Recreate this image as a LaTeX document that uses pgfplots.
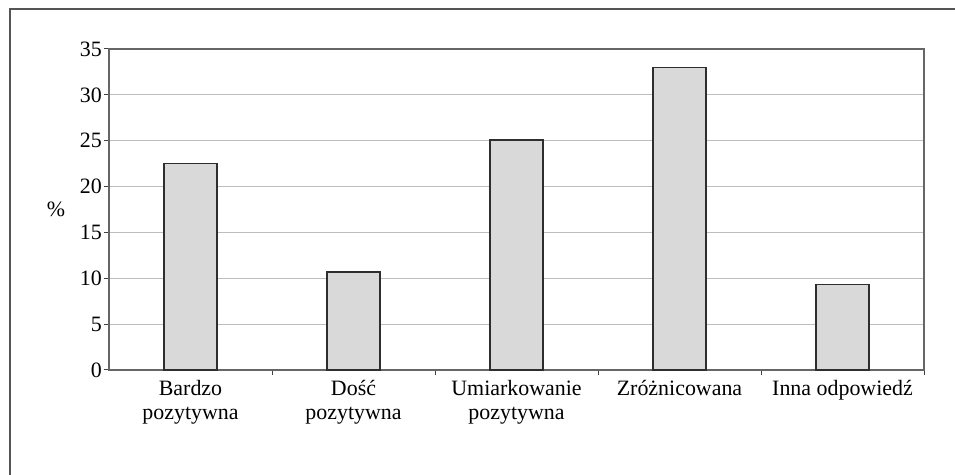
\documentclass[border=0pt]{standalone}
\usepackage{fontspec}
\setmainfont{Liberation Serif}
\usepackage{pgfplots}
\pgfplotsset{compat=1.18}

\definecolor{barfill}{HTML}{D9D9D9}
\definecolor{baredge}{HTML}{2E2E2E}
\definecolor{gridc}{HTML}{BDBDBD}
\definecolor{framec}{HTML}{555555}

\begin{document}
\begin{tikzpicture}[x=1bp,y=1bp]
\useasboundingbox (0,0) rectangle (955,475);
% outer frame (only top and left edges are visible)
\draw[framec, line width=2bp] (10,0) -- (10,466) -- (955,466);
\begin{axis}[
    at={(109bp,105bp)}, anchor=south west,
    scale only axis,
    width=815bp, height=321bp,
    xmin=0.5, xmax=5.5,
    ymin=0, ymax=35,
    ytick={0,5,...,35},
    xtick={1,2,3,4,5},
    xticklabels={{Bardzo\\pozytywna},{Dość\\pozytywna},{Umiarkowanie\\pozytywna},{Zróżnicowana},{Inna odpowiedź}},
    minor xtick={1.5,2.5,3.5,4.5,5.5},
    major x tick style={draw=none},
    minor x tick style={draw=black!75, line width=1bp},
    minor tick length=5bp,
    major tick length=5bp,
    tick align=outside,
    ytick pos=left, xtick pos=bottom,
    ytick style={draw=black!75, line width=1bp},
    ymajorgrids,
    grid style={gridc, line width=1bp},
    axis line style={black!60, line width=1.5bp},
    tick label style={font=\fontsize{22}{24}\selectfont},
    xticklabel style={align=center, inner sep=2bp, yshift=-3bp},
    yticklabel style={inner sep=2bp},
    /pgf/number format/assume math mode=true,
    ylabel={\%},
    ylabel style={at={(rel axis cs:0,0.5)}, anchor=center, rotate=-90, xshift=-53bp, font=\fontsize{22}{24}\selectfont},
    clip=false,
]
\addplot[ybar, bar width=53bp, fill=barfill, draw=baredge, line width=1.5bp]
coordinates {(1,22.5) (2,10.7) (3,25.1) (4,33.0) (5,9.3)};
\end{axis}
\end{tikzpicture}
\end{document}
